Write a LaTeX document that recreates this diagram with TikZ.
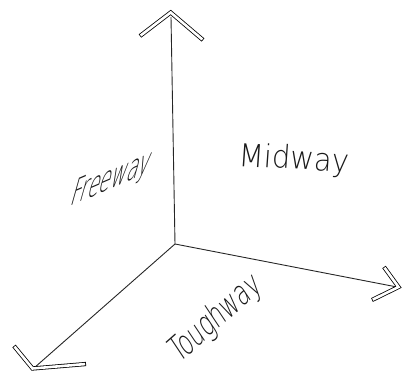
\documentclass[tikz,border=0pt]{standalone}
\usepackage{fontspec}
\setmainfont{DejaVu Sans}[UprightFont={* ExtraLight}]
\begin{document}
\begin{tikzpicture}[x=1pt,y=1pt,
  axis/.style={line width=0.9pt, draw=black!85},
  chevout/.style={line width=4.2pt, line join=miter, miter limit=20, line cap=butt},
  chevin/.style={line width=2.6pt, white, line join=miter, miter limit=20, line cap=butt, shorten <=0.8pt, shorten >=0.8pt},
  lbl/.style={inner sep=0pt, anchor=base west, black!90}]
\useasboundingbox (0,0) rectangle (402,373);
% axes
\coordinate (O) at (175,129);
\coordinate (zt) at (171,356);
\coordinate (xt) at (397,86);
\coordinate (yt) at (34,5);
\draw[axis] (O) -- (zt);
\draw[axis] (O) -- (xt);
\draw[axis] (O) -- (yt);
% chevrons
\coordinate (za) at (170.7,360.5);
\coordinate (zl) at (140,337);
\coordinate (zr) at (203,333);
\coordinate (xa) at (398.5,86);
\coordinate (xu) at (384,106);
\coordinate (xd) at (372,73);
\coordinate (ya) at (32.5,4.5);
\coordinate (yu) at (14,27);
\coordinate (yr) at (86,9);
\foreach \a/\b/\c in {zl/za/zr, xu/xa/xd, yu/ya/yr}{
  \draw[chevout] (\a) -- (\b) -- (\c);
  \draw[chevin] (\a) -- (\b) -- (\c);
}
% labels
\node[lbl, font=\fontsize{39}{39}\selectfont, cm={0.49,0.21,0.27,0.96,(0,0)}] (free) at (69,166) {Freeway};
\node[lbl, font=\fontsize{31.5}{32}\selectfont, cm={0.92,-0.05,0.07,1.0,(0,0)}] (mid) at (238,207) {Midway};
\node[lbl, font=\fontsize{38}{38}\selectfont, cm={0.447,0.394,-0.5,0.75,(0,0)}] (tough) at (179,9) {Toughway};
\end{tikzpicture}
\end{document}
